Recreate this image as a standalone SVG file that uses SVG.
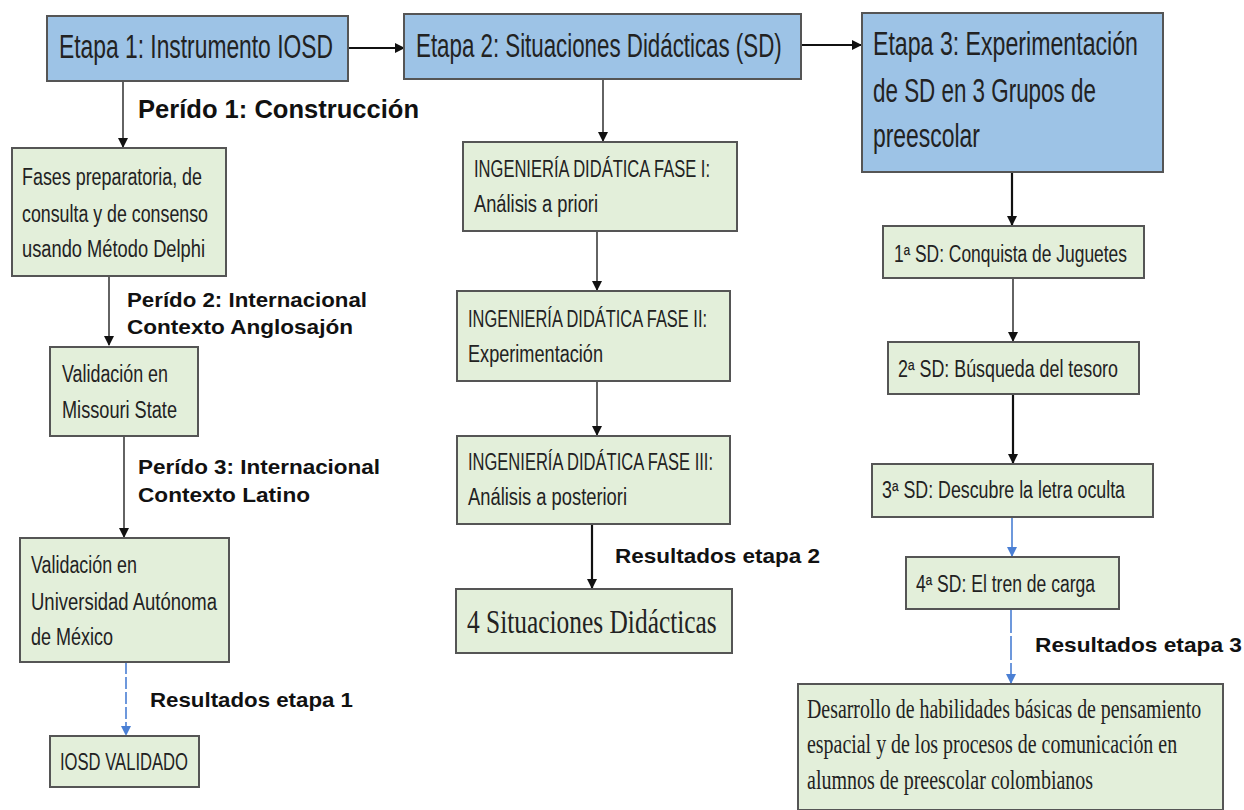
<svg xmlns="http://www.w3.org/2000/svg" width="1244" height="810" viewBox="0 0 1244 810">
<style>
.stage{fill:#9dc3e6;stroke:#555;stroke-width:2}
.box{fill:#e3efda;stroke:#555;stroke-width:2}
.t{font-family:"Liberation Sans",Arial,sans-serif;fill:#222}
.big{font-size:33px}
.mid{font-size:23px}
.ser{font-family:"Liberation Serif","Times New Roman",serif;fill:#222}
.lbl{font-family:"Liberation Sans",Arial,sans-serif;font-weight:bold;fill:#111}
.k{fill:none;stroke:#222;stroke-width:1.4}
.kb{fill:none;stroke:#111;stroke-width:2.2}
.bl{fill:none;stroke:#4a7fd4;stroke-width:1.6}
</style>
<defs>
<marker id="ak" markerWidth="10" markerHeight="10" refX="9" refY="5" orient="auto" markerUnits="userSpaceOnUse">
<path d="M0,0 L10,5 L0,10 Z" fill="#111"/>
</marker>
<marker id="ab" markerWidth="10" markerHeight="10" refX="9" refY="5" orient="auto" markerUnits="userSpaceOnUse">
<path d="M0,0 L10,5 L0,10 Z" fill="#4a7fd4"/>
</marker>
</defs>

<g id="connectors">
<line class="kb" x1="348" y1="48" x2="404" y2="48" marker-end="url(#ak)"/>
<line class="kb" x1="801" y1="45" x2="861" y2="45" marker-end="url(#ak)"/>
<line class="k" x1="123" y1="81" x2="123" y2="147" marker-end="url(#ak)"/>
<line class="k" x1="109" y1="276" x2="109" y2="345" marker-end="url(#ak)"/>
<line class="k" x1="124" y1="436" x2="124" y2="537" marker-end="url(#ak)"/>
<line class="bl" x1="126" y1="662" x2="126" y2="735" stroke-dasharray="12 3" marker-end="url(#ab)"/>
<line class="k" x1="603" y1="79" x2="603" y2="141" marker-end="url(#ak)"/>
<line class="k" x1="597" y1="231" x2="597" y2="290" marker-end="url(#ak)"/>
<line class="k" x1="597" y1="381" x2="597" y2="435" marker-end="url(#ak)"/>
<line class="kb" x1="592" y1="524" x2="592" y2="588" marker-end="url(#ak)"/>
<line class="kb" x1="1012" y1="172" x2="1012" y2="225" marker-end="url(#ak)"/>
<line class="k" x1="1013" y1="278" x2="1013" y2="341" marker-end="url(#ak)"/>
<line class="kb" x1="1013" y1="394" x2="1013" y2="463" marker-end="url(#ak)"/>
<line class="bl" x1="1012" y1="517" x2="1012" y2="556" marker-end="url(#ab)"/>
<line class="bl" x1="1011" y1="609" x2="1011" y2="683" stroke-dasharray="24 3" marker-end="url(#ab)"/>
</g>

<g id="etapa1">
<rect class="stage" x="47" y="16" width="301" height="65"/>
<text class="t big" transform="translate(59 58) scale(0.69 1)" textLength="397" lengthAdjust="spacingAndGlyphs">Etapa 1: Instrumento IOSD</text>
</g>
<g id="etapa2">
<rect class="stage" x="404" y="14" width="397" height="65"/>
<text class="t big" transform="translate(416 57) scale(0.69 1)" textLength="530" lengthAdjust="spacingAndGlyphs">Etapa 2: Situaciones Didácticas (SD)</text>
</g>
<g id="etapa3">
<rect class="stage" x="862" y="13" width="301" height="159"/>
<text class="t big" transform="translate(873 55) scale(0.69 1)" textLength="384" lengthAdjust="spacingAndGlyphs">Etapa 3: Experimentación</text>
<text class="t big" transform="translate(873 102) scale(0.69 1)" textLength="323" lengthAdjust="spacingAndGlyphs">de SD en 3 Grupos de</text>
<text class="t big" transform="translate(873 147) scale(0.69 1)" textLength="155" lengthAdjust="spacingAndGlyphs">preescolar</text>
</g>

<g id="labels">
<text class="lbl" x="138" y="118" font-size="25" textLength="281" lengthAdjust="spacingAndGlyphs">Perído 1: Construcción</text>
<text class="lbl" x="127" y="307" font-size="21" textLength="240" lengthAdjust="spacingAndGlyphs">Perído 2: Internacional</text>
<text class="lbl" x="127" y="334" font-size="21" textLength="226" lengthAdjust="spacingAndGlyphs">Contexto Anglosajón</text>
<text class="lbl" x="138" y="474" font-size="21" textLength="242" lengthAdjust="spacingAndGlyphs">Perído 3: Internacional</text>
<text class="lbl" x="138" y="502" font-size="21" textLength="172" lengthAdjust="spacingAndGlyphs">Contexto Latino</text>
<text class="lbl" x="150" y="707" font-size="21" textLength="203" lengthAdjust="spacingAndGlyphs">Resultados etapa 1</text>
<text class="lbl" x="615" y="563" font-size="21" textLength="205" lengthAdjust="spacingAndGlyphs">Resultados etapa 2</text>
<text class="lbl" x="1035" y="652" font-size="21" textLength="207" lengthAdjust="spacingAndGlyphs">Resultados etapa 3</text>
</g>

<g id="fases">
<rect class="box" x="12" y="148" width="214" height="128"/>
<text class="t mid" x="22" y="185" textLength="180" lengthAdjust="spacingAndGlyphs">Fases preparatoria, de</text>
<text class="t mid" x="22" y="222" textLength="186" lengthAdjust="spacingAndGlyphs">consulta y de consenso</text>
<text class="t mid" x="22" y="257" textLength="183" lengthAdjust="spacingAndGlyphs">usando Método Delphi</text>
</g>
<g id="missouri">
<rect class="box" x="50" y="347" width="148" height="89"/>
<text class="t mid" x="62" y="382" textLength="106" lengthAdjust="spacingAndGlyphs">Validación en</text>
<text class="t mid" x="62" y="418" textLength="115" lengthAdjust="spacingAndGlyphs">Missouri State</text>
</g>
<g id="uam">
<rect class="box" x="20" y="538" width="209" height="124"/>
<text class="t mid" x="31" y="573" textLength="106" lengthAdjust="spacingAndGlyphs">Validación en</text>
<text class="t mid" x="31" y="610" textLength="186" lengthAdjust="spacingAndGlyphs">Universidad Autónoma</text>
<text class="t mid" x="31" y="645" textLength="82" lengthAdjust="spacingAndGlyphs">de México</text>
</g>
<g id="iosd">
<rect class="box" x="50" y="736" width="149" height="51"/>
<text class="t mid" x="60" y="770" textLength="128" lengthAdjust="spacingAndGlyphs">IOSD VALIDADO</text>
</g>

<g id="fase1">
<rect class="box" x="463" y="142" width="274" height="89"/>
<text class="t mid" x="474" y="177" textLength="236" lengthAdjust="spacingAndGlyphs">INGENIERÍA DIDÁTICA FASE I:</text>
<text class="t mid" x="474" y="212" textLength="124" lengthAdjust="spacingAndGlyphs">Análisis a priori</text>
</g>
<g id="fase2">
<rect class="box" x="457" y="291" width="273" height="90"/>
<text class="t mid" x="468" y="327" textLength="239" lengthAdjust="spacingAndGlyphs">INGENIERÍA DIDÁTICA FASE II:</text>
<text class="t mid" x="468" y="362" textLength="135" lengthAdjust="spacingAndGlyphs">Experimentación</text>
</g>
<g id="fase3">
<rect class="box" x="457" y="436" width="273" height="88"/>
<text class="t mid" x="468" y="470" textLength="245" lengthAdjust="spacingAndGlyphs">INGENIERÍA DIDÁTICA FASE III:</text>
<text class="t mid" x="468" y="505" textLength="159" lengthAdjust="spacingAndGlyphs">Análisis a posteriori</text>
</g>
<g id="situaciones">
<rect class="box" x="456" y="589" width="276" height="64"/>
<text class="ser" font-size="34" transform="translate(467 633) scale(0.75 1)" textLength="333" lengthAdjust="spacingAndGlyphs">4 Situaciones Didácticas</text>
</g>

<g id="sd1">
<rect class="box" x="883" y="226" width="261" height="52"/>
<text class="t mid" x="894" y="262" textLength="233" lengthAdjust="spacingAndGlyphs">1ª SD: Conquista de Juguetes</text>
</g>
<g id="sd2">
<rect class="box" x="888" y="342" width="251" height="52"/>
<text class="t mid" x="898" y="377" textLength="220" lengthAdjust="spacingAndGlyphs">2ª SD: Búsqueda del tesoro</text>
</g>
<g id="sd3">
<rect class="box" x="872" y="464" width="281" height="53"/>
<text class="t mid" x="882" y="498" textLength="243" lengthAdjust="spacingAndGlyphs">3ª SD: Descubre la letra oculta</text>
</g>
<g id="sd4">
<rect class="box" x="906" y="557" width="213" height="52"/>
<text class="t mid" x="916" y="592" textLength="179" lengthAdjust="spacingAndGlyphs">4ª SD: El tren de carga</text>
</g>
<g id="resultado3">
<rect class="box" x="798" y="684" width="425" height="126"/>
<text class="ser" font-size="27" transform="translate(807 718) scale(0.73 1)" textLength="540" lengthAdjust="spacingAndGlyphs">Desarrollo de habilidades  básicas de pensamiento</text>
<text class="ser" font-size="27" transform="translate(807 753) scale(0.73 1)" textLength="507" lengthAdjust="spacingAndGlyphs">espacial y de los procesos de comunicación en</text>
<text class="ser" font-size="27" transform="translate(807 789) scale(0.73 1)" textLength="392" lengthAdjust="spacingAndGlyphs">alumnos de preescolar colombianos</text>
</g>
</svg>
